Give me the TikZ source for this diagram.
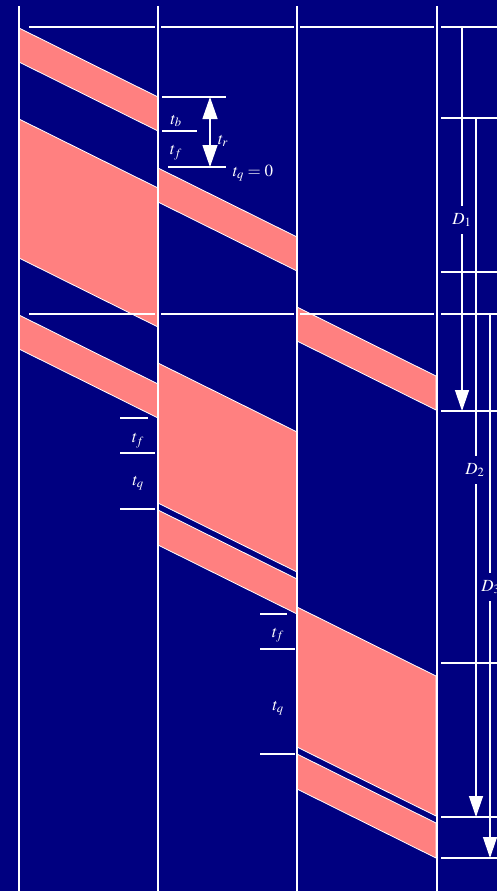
\documentclass[tikz,border=0pt]{standalone}
\usepackage{mathptmx}
\usetikzlibrary{arrows.meta}
\definecolor{bgnavy}{HTML}{000080}
\definecolor{bandpink}{HTML}{FF8080}

\begin{document}
\begin{tikzpicture}[
        x=1pt, y=-1pt,
        rail/.style={white, line width=1.6pt},
        tick/.style={white, line width=1.2pt},
        band/.style={fill=bandpink, draw=white, line width=0.8pt},
        lbl/.style={text=white, font=\fontsize{17}{19}\selectfont, inner sep=1pt},
        span/.style={white, line width=1.3pt, -{Triangle[width=14pt,length=21pt]}},
        dspan/.style={white, line width=1.3pt,
                      {Triangle[width=15pt,length=22pt]}-{Triangle[width=15pt,length=22pt]}},
    ]
    % page and background
    \useasboundingbox (0,0) rectangle (497,891);
    \clip (0,0) rectangle (497,891);
    \fill[bgnavy] (0,0) rectangle (497,891);

    % pulses: left x / top y at left rail / height
    \foreach \xl/\yt/\h in {19/28/34, 19/119/139, 19/315/34,
                            158/168/34, 158/363/140, 158/510/35,
                            297/307/34, 297/607/140, 297/754/35}
        \path[band] (\xl,\yt) -- (\xl+139,\yt+69) -- (\xl+139,\yt+69+\h)
                    -- (\xl,\yt+\h) -- cycle;

    % horizontal rules, broken at the rails
    \foreach \y in {27, 314}
        \foreach \xa/\xb in {29/155, 161/294, 300/434, 441/497}
            \draw[tick] (\xa,\y) -- (\xb,\y);
    \foreach \y in {118, 272, 411, 663, 817, 858}
        \draw[tick] (441,\y) -- (497,\y);

    % rails
    \foreach \x in {19, 158, 297, 437}
        \draw[rail] (\x,6) -- (\x,891);

    % first switching: t_b, t_f, t_r
    \draw[tick] (162,97) -- (226,97);
    \draw[tick] (162,131) -- (197,131);
    \draw[tick] (168,167) -- (226,167);
    \node[lbl] (tb1) at (176,121) {$t_b$};
    \node[lbl] (tf1) at (176,153) {$t_f$};
    \coordinate (tra) at (210,97);
    \coordinate (trb) at (210,167);
    \draw[dspan] (tra) -- (trb);
    \node[lbl] (tr) at (223,141) {$t_r$};
    \node[lbl] (tq0) at (253,173) {$t_q = 0$};

    % second switching
    \draw[tick] (120,418) -- (148,418);
    \draw[tick] (120,453) -- (155,453);
    \draw[tick] (120,509) -- (155,509);
    \node[lbl] (tf2) at (138,441) {$t_f$};
    \node[lbl] (tq2) at (138,483) {$t_q$};

    % third switching
    \draw[tick] (260,614) -- (287,614);
    \draw[tick] (260,649) -- (295,649);
    \draw[tick] (260,754) -- (295,754);
    \node[lbl] (tf3) at (278,635) {$t_f$};
    \node[lbl] (tq3) at (278,708) {$t_q$};

    % delays
    \coordinate (d1a) at (462,27);
    \coordinate (d1b) at (462,411);
    \coordinate (d2a) at (476,118);
    \coordinate (d2b) at (476,817);
    \coordinate (d3a) at (490,314);
    \coordinate (d3b) at (490,858);
    \draw[span] (d1a) -- (d1b);
    \draw[span] (d2a) -- (d2b);
    \draw[span] (d3a) -- (d3b);
    \node[lbl, fill=bgnavy, inner ysep=7pt] (d1) at (462,220) {$D_1$};
    \node[lbl, fill=bgnavy, inner ysep=7pt] (d2) at (475,470) {$D_2$};
    \node[lbl, fill=bgnavy, inner ysep=7pt] (d3) at (491,587) {$D_3$};
\end{tikzpicture}
\end{document}
